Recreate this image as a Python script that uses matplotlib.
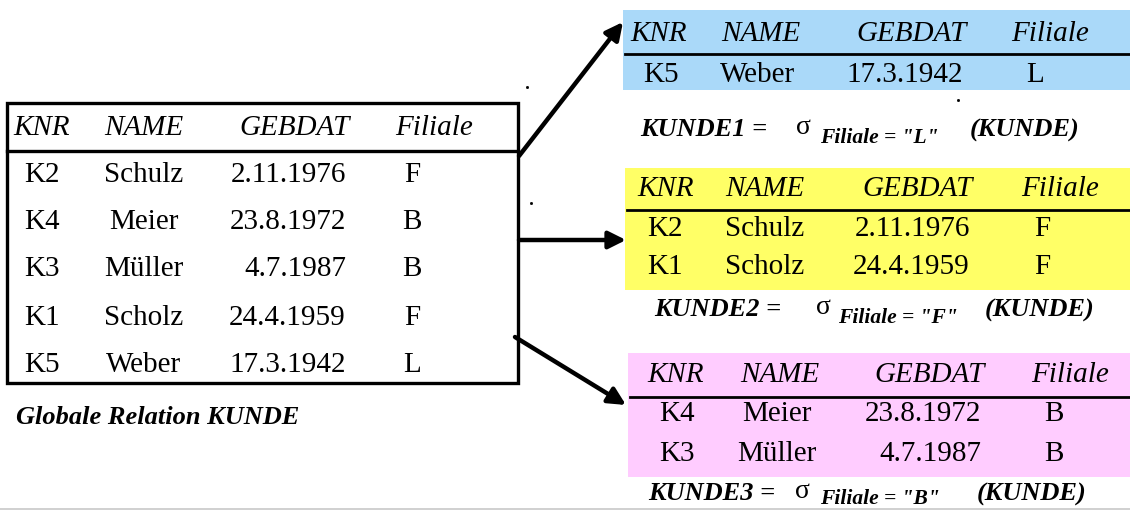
import matplotlib.pyplot as plt

# Data
##########

columns = ["KNR", "NAME", "GEBDAT", "Filiale"]
knr = ["K2", "K4", "K3", "K1", "K5"]
name = ["Schulz", "Meier", "Müller", "Scholz", "Weber"]
gebdat = ["2.11.1976", "23.8.1972", "4.7.1987", "24.4.1959", "17.3.1942"]
filiale = ["F", "B", "B", "F", "L"]

fragment_names = ["KUNDE1", "KUNDE2", "KUNDE3"]
fragment_keys = ["L", "F", "B"]
fragment_colors = ["#aad9f9", "#ffff66", "#ffccff"]

SERIF = "Liberation Serif"
FS = 21


def rows_for(key=None):
    idx = [i for i, f in enumerate(filiale) if key is None or f == key]
    return [(knr[i], name[i], gebdat[i], filiale[i]) for i in idx]


# head_x : left of KNR, centers of NAME/GEBDAT/Filiale
# row_x  : center of KNR, center of NAME, right of date, center of Filiale
def draw_table(ax, rows, head_x, row_x, head_y, row_y):
    ax.text(head_x[0], head_y, columns[0], ha='left', va='center',
            family=SERIF, style='italic', fontsize=FS)
    for x, c in zip(head_x[1:], columns[1:]):
        ax.text(x, head_y, c, ha='center', va='center',
                family=SERIF, style='italic', fontsize=FS)
    for y, r in zip(row_y, rows):
        ax.text(row_x[0], y, r[0], ha='center', va='center', family=SERIF, fontsize=FS)
        ax.text(row_x[1], y, r[1], ha='center', va='center', family=SERIF, fontsize=FS)
        ax.text(row_x[2], y, r[2], ha='right', va='center', family=SERIF, fontsize=FS)
        ax.text(row_x[3], y, r[3], ha='center', va='center', family=SERIF, fontsize=FS)


def draw_formula(ax, x, y, label, key, sig_x, sub_x, rel_x, sub_dy=8):
    ax.text(x, y, label + " =", ha='left', va='center', family=SERIF,
            style='italic', weight='bold', fontsize=19)
    ax.text(sig_x, y - 3, "σ", ha='center', va='center', family=SERIF, fontsize=20)
    ax.text(sub_x, y + sub_dy, 'Filiale = "' + key + '"', ha='left', va='center',
            family=SERIF, style='italic', weight='bold', fontsize=15.5)
    ax.text(rel_x, y, "(KUNDE)", ha='left', va='center', family=SERIF,
            style='italic', weight='bold', fontsize=19)


fig = plt.figure(figsize=(11.3, 5.11), dpi=100)
ax = fig.add_axes([0, 0, 1, 1])
ax.set_xlim(0, 1130)
ax.set_ylim(511, 0)
ax.axis('off')

# Global relation
##################

ax.add_patch(plt.Rectangle((7, 103), 511, 280, fill=False, ec='black', lw=2.4))
ax.plot([7, 518], [151, 151], color='black', lw=2.4)
draw_table(ax, rows_for(), [13, 144, 295, 434], [42, 144, 346, 412],
           128, [175, 222, 269, 318, 365])
ax.text(16, 417, "Globale Relation KUNDE", ha='left', va='center', family=SERIF,
        style='italic', weight='bold', fontsize=19)

# Fragments
############

frag_layout = [
    # rect (x, y, w, h), line y, head_x, row_x, head_y, row_ys, formula
    dict(rect=(623, 10, 507, 80), line=54, head_x=[630, 761, 912, 1050],
         row_x=[661, 758, 963, 1035], head_y=34, row_y=[75],
         form=(640, 130, 803, 820, 970, 8)),
    dict(rect=(625, 168, 505, 122), line=210, head_x=[637, 765, 918, 1060],
         row_x=[665, 765, 970, 1042], head_y=189, row_y=[229, 267],
         form=(654, 310, 823, 838, 985, 8)),
    dict(rect=(628, 353, 502, 124), line=397, head_x=[647, 780, 930, 1070],
         row_x=[677, 777, 981, 1054], head_y=375, row_y=[414, 454],
         form=(648, 494, 802, 820, 977, 5)),
]

for label, key, color, lay in zip(fragment_names, fragment_keys, fragment_colors, frag_layout):
    x, y, w, h = lay['rect']
    ax.add_patch(plt.Rectangle((x, y), w, h, fc=color, ec='none'))
    ax.plot([x + 2, x + w], [lay['line'], lay['line']], color='black', lw=2)
    draw_table(ax, rows_for(key), lay['head_x'], lay['row_x'], lay['head_y'], lay['row_y'])
    fx, fy, sx, subx, rx, sdy = lay['form']
    draw_formula(ax, fx, fy, label, key, sx, subx, rx, sdy)

# Arrows
#########

arrow_paths = [((519, 156), (623, 22)), ((519, 240), (626, 240)), ((515, 337), (626, 405))]
for start, end in arrow_paths:
    ax.annotate("", xy=end, xytext=start,
                arrowprops=dict(arrowstyle='-|>', lw=3.2, color='black',
                                mutation_scale=26, shrinkA=0, shrinkB=0))

# stray specks and bottom rule
ax.plot([527, 531, 958], [87, 203, 100], 's', color='black', ms=1.0)
ax.plot([0, 1130], [509, 509], color='#c8c8c8', lw=1.2)

fig.savefig("out.png", dpi=100)
